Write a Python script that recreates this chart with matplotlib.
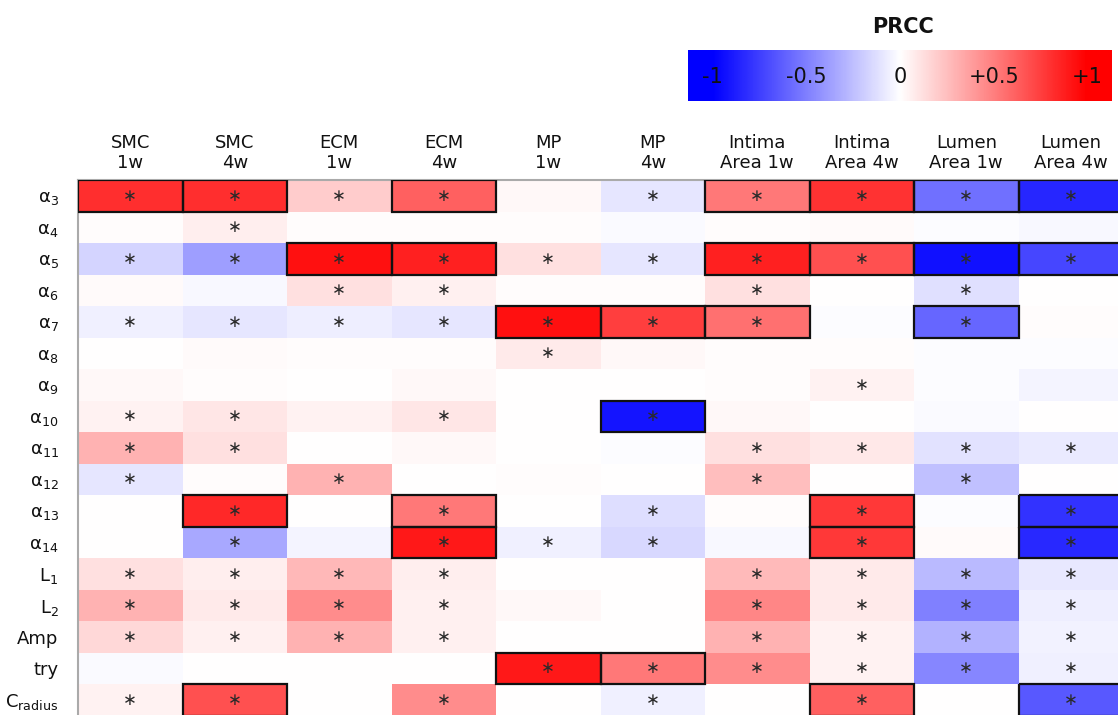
import numpy as np
import matplotlib
matplotlib.use("Agg")
import matplotlib.pyplot as plt
from matplotlib.patches import Rectangle

# ---------------- data ----------------
columns = ["SMC\n1w", "SMC\n4w", "ECM\n1w", "ECM\n4w", "MP\n1w", "MP\n4w",
           "Intima\nArea 1w", "Intima\nArea 4w", "Lumen\nArea 1w", "Lumen\nArea 4w"]
rows = ["α$_{3}$", "α$_{4}$", "α$_{5}$", "α$_{6}$", "α$_{7}$", "α$_{8}$", "α$_{9}$",
        "α$_{10}$", "α$_{11}$", "α$_{12}$", "α$_{13}$", "α$_{14}$",
        "L$_{1}$", "L$_{2}$", "Amp", "try", "C$_{\\mathrm{radius}}$"]

prcc = [
    [0.82, 0.82, 0.20, 0.62, 0.03, -0.10, 0.53, 0.80, -0.56, -0.85],   # a3
    [0.01, 0.07, 0.01, 0.01, 0.01, -0.02, 0.01, 0.02, -0.01, -0.03],   # a4
    [-0.17, -0.38, 0.93, 0.87, 0.12, -0.10, 0.87, 0.68, -0.93, -0.72],  # a5
    [0.02, -0.03, 0.12, 0.06, 0.01, 0.01, 0.12, 0.00, -0.12, 0.00],    # a6
    [-0.06, -0.10, -0.07, -0.10, 0.93, 0.75, 0.56, -0.01, -0.60, 0.01],  # a7
    [0.00, 0.02, 0.01, 0.01, 0.08, 0.03, 0.01, 0.01, -0.01, -0.01],    # a8
    [0.03, 0.01, 0.00, 0.03, 0.00, 0.00, 0.01, 0.05, -0.01, -0.04],    # a9
    [0.05, 0.10, 0.05, 0.10, 0.00, -0.92, 0.03, 0.00, -0.02, 0.00],    # a10
    [0.30, 0.12, 0.00, 0.03, 0.00, -0.01, 0.12, 0.09, -0.11, -0.08],   # a11
    [-0.10, 0.01, 0.30, 0.00, 0.01, 0.00, 0.25, 0.00, -0.25, 0.00],    # a12
    [0.00, 0.84, 0.00, 0.53, 0.00, -0.13, 0.01, 0.78, -0.01, -0.80],   # a13
    [0.00, -0.34, -0.04, 0.90, -0.06, -0.15, -0.03, 0.78, 0.02, -0.84],  # a14
    [0.12, 0.07, 0.28, 0.07, 0.00, 0.00, 0.27, 0.08, -0.27, -0.09],    # L1
    [0.30, 0.08, 0.45, 0.06, 0.03, 0.00, 0.47, 0.08, -0.50, -0.07],    # L2
    [0.15, 0.06, 0.30, 0.06, 0.00, 0.00, 0.30, 0.05, -0.30, -0.05],    # Amp
    [-0.02, 0.00, 0.00, 0.00, 0.90, 0.53, 0.45, 0.05, -0.47, -0.06],   # try
    [0.05, 0.68, 0.00, 0.45, 0.00, -0.06, 0.00, 0.62, 0.00, -0.65],    # Cradius
]

significant = ["1111011111", "0100000000", "1111111111", "0011001010", "1111111010",
               "0000100000", "0000000100", "1101010000", "1100001111", "1010001010",
               "0101010101", "0101110101", "1111001111", "1111001111", "1111001111",
               "0000111111", "1101010101"]
boxed = ["1101001111", "0000000000", "0011001111", "0000000000", "0000111010",
         "0000000000", "0000000000", "0000010000", "0000000000", "0000000000",
         "0101000101", "0001000101", "0000000000", "0000000000", "0000000000",
         "0000110000", "0100000101"]

cbar_ticks = [-1, -0.5, 0, 0.5, 1]
cbar_labels = ["-1", "-0.5", "0", "+0.5", "+1"]

# ---------------- figure ----------------
W, H = 1118, 715
fig = plt.figure(figsize=(W / 100, H / 100), dpi=100)
cmap = plt.get_cmap("bwr")

nr, nc = len(rows), len(columns)
ax_left, ax_top = 78, 180
cw, rh = 104.5, 31.5
ax = fig.add_axes([ax_left / W, 1 - (ax_top + nr * rh) / H, nc * cw / W, nr * rh / H])

vals = np.array(prcc)
ax.pcolormesh(np.arange(nc + 1), np.arange(nr + 1), vals, cmap=cmap, vmin=-1, vmax=1,
              shading="flat", edgecolors="none", antialiased=False)
ax.set_xlim(0, nc)
ax.set_ylim(nr, 0)

for i in range(nr):
    for j in range(nc):
        if significant[i][j] == "1":
            ax.text(j + 0.5, i + 0.5, "∗", ha="center", va="center",
                    fontsize=12, color="#2a2a2a")
        if boxed[i][j] == "1":
            ax.add_patch(Rectangle((j, i), 1, 1, fill=False,
                                   edgecolor="#111111", linewidth=1.6, zorder=5))

ax.xaxis.tick_top()
ax.set_xticks(np.arange(nc) + 0.5)
ax.set_xticklabels(columns, fontsize=13, linespacing=1.1, color="#111111")
ax.set_yticks(np.arange(nr) + 0.5)
ax.set_yticklabels(rows, fontsize=13, color="#111111")
ax.tick_params(axis="both", length=0)
ax.tick_params(axis="x", pad=6)
ax.tick_params(axis="y", pad=14)
for s in ["right", "bottom"]:
    ax.spines[s].set_visible(False)
for s in ["left", "top"]:
    ax.spines[s].set_color("#aaaaaa")
    ax.spines[s].set_linewidth(1.5)

# ---------------- colorbar ----------------
cb_l, cb_t, cb_w, cb_h = 688, 50, 424, 51
cax = fig.add_axes([cb_l / W, 1 - (cb_t + cb_h) / H, cb_w / W, cb_h / H])
ext = 1.13
grad = np.linspace(-ext, ext, 512).reshape(1, -1)
cax.imshow(grad, cmap=cmap, vmin=-1, vmax=1, aspect="auto",
           extent=(-ext, ext, 0, 1))
cax.set_xlim(-ext, ext)
cax.set_ylim(0, 1)
for t, lab in zip(cbar_ticks, cbar_labels):
    cax.text(t, 0.48, lab, ha="center", va="center", fontsize=15, color="#111111")
cax.set_xticks([])
cax.set_yticks([])
for s in cax.spines.values():
    s.set_visible(False)

fig.text((cb_l + cb_w / 2 + 3) / W, 1 - 27 / H, "PRCC", ha="center", va="center",
         fontsize=15, fontweight="bold", color="#111111")

fig.savefig("out.png", dpi=100)
